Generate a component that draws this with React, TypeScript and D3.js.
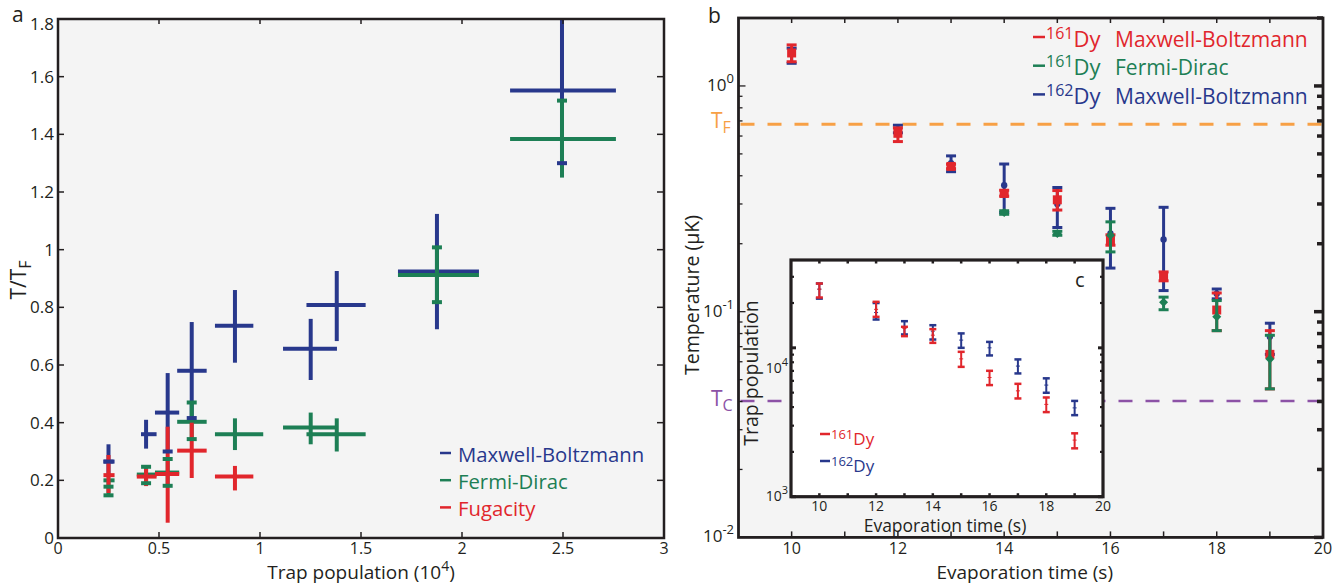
import React from "react";
import * as d3 from "d3";

// ---------- panel a : T/T_F vs trap population (1e4) ----------
// each row: [x, xLo, xHi, y, yLo, yHi]
const maxwellA = [
  [0.25, 0.225, 0.28, 0.265, 0.21, 0.325],
  [0.436, 0.411, 0.488, 0.36, 0.31, 0.41],
  [0.543, 0.48, 0.6, 0.435, 0.3, 0.572],
  [0.662, 0.59, 0.736, 0.58, 0.416, 0.749],
  [0.876, 0.777, 0.967, 0.736, 0.608, 0.86],
  [1.251, 1.114, 1.381, 0.656, 0.548, 0.76],
  [1.38, 1.23, 1.523, 0.808, 0.683, 0.926],
  [1.876, 1.683, 2.084, 0.924, 0.724, 1.124],
  [2.495, 2.238, 2.762, 1.552, 1.3, 1.95],
];
const fermiA = [
  [0.25, 0.225, 0.28, 0.2, 0.15, 0.2],
  [0.436, 0.39, 0.488, 0.22, 0.19, 0.247],
  [0.543, 0.48, 0.6, 0.227, 0.181, 0.274],
  [0.662, 0.59, 0.736, 0.403, 0.343, 0.47],
  [0.876, 0.777, 1.016, 0.36, 0.305, 0.415],
  [1.251, 1.114, 1.381, 0.383, 0.325, 0.435],
  [1.38, 1.23, 1.523, 0.36, 0.3, 0.415],
  [1.876, 1.683, 2.084, 0.912, 0.818, 1.008],
  [2.495, 2.238, 2.762, 1.384, 1.25, 1.517],
];
const fugacityA = [
  [0.25, 0.225, 0.28, 0.218, 0.156, 0.288],
  [0.436, 0.39, 0.488, 0.213, 0.18, 0.24],
  [0.543, 0.48, 0.6, 0.222, 0.053, 0.386],
  [0.662, 0.59, 0.736, 0.303, 0.208, 0.4],
  [0.876, 0.777, 0.967, 0.213, 0.165, 0.25],
];
// short cap marks: [x, y]
const maxwellCapsA = [[0.25, 0.265], [0.543, 0.3], [0.662, 0.416], [2.495, 1.3]];
const fermiCapsA = [
  [0.25, 0.178], [0.25, 0.148], [0.436, 0.247], [0.436, 0.19],
  [0.543, 0.274], [0.543, 0.181], [0.662, 0.47], [0.662, 0.343],
  [1.876, 1.008], [1.876, 0.818], [2.495, 1.517],
];
const legendA = ["Maxwell-Boltzmann", "Fermi-Dirac", "Fugacity"];

// ---------- panel b : temperature vs evaporation time ----------
const evapTimes = [10, 12, 13, 14, 15, 16, 17, 18, 19];
const mb161 = [1.4, 0.617, 0.44, 0.334, 0.313, 0.208, 0.143, 0.1017, 0.0647];
const mb161Lo = [1.28, 0.567, 0.43, 0.325, 0.282, 0.197, 0.137, 0.0824, 0.0455];
const mb161Hi = [1.52, 0.652, 0.45, 0.345, 0.344, 0.219, 0.15, 0.121, 0.0824];
const fdTimes = [14, 15, 16, 17, 18, 19];
const fd161 = [0.275, 0.222, 0.218, 0.11, 0.095, 0.0617];
const fd161Lo = [0.27, 0.218, 0.184, 0.102, 0.0824, 0.0455];
const fd161Hi = [0.28, 0.227, 0.25, 0.116, 0.112, 0.0786];
const mb162 = [1.4, 0.64, 0.455, 0.363, 0.3, 0.222, 0.209, 0.12, 0.0775];
const mb162Lo = [1.26, 0.62, 0.417, 0.275, 0.236, 0.156, 0.124, 0.114, 0.0647];
const mb162Hi = [1.47, 0.67, 0.49, 0.451, 0.355, 0.287, 0.29, 0.126, 0.0889];
const fermiTemp = 0.676;
const criticalTemp = 0.0402;

// ---------- inset c : trap population vs evaporation time ----------
const pop161 = [24770, 18130, 13490, 12160, 8430, 6320, 5140, 4170, 2400];
const pop161Lo = [21780, 16150, 11980, 10800, 7450, 5620, 4570, 3700, 2113];
const pop161Hi = [27040, 20370, 13840, 13350, 9400, 7010, 5730, 4640, 2665];
const pop162 = [24770, 17260, 13700, 12940, 11270, 10000, 7540, 5620, 3950];
const pop162Lo = [21400, 15490, 12300, 11370, 10000, 8890, 6730, 4990, 3530];
const pop162Hi = [27040, 20000, 15100, 14190, 12500, 10960, 8360, 6240, 4400];

const BLUE = "#28388c";
const GREEN = "#1d7f55";
const RED = "#e1262c";
const ORANGE = "#f7a045";
const PURPLE = "#8c52a6";
const INK = "#231f20";
const BG = "#f4f4f4";
const FONT = "'Open Sans', sans-serif";

const Sup = ({ t, dy = -7, size = 12 }: { t: string; dy?: number; size?: number }) => (
  <tspan dy={dy} fontSize={size}>{t}</tspan>
);

export default function App() {
  // panel a
  const xA = d3.scaleLinear().domain([0, 3]).range([58, 664]);
  const yA = d3.scaleLinear().domain([0, 1.8]).range([538, 19]);
  // panel b
  const xB = d3.scaleLinear().domain([9, 20]).range([738.5, 1323]);
  const yB = d3.scaleLog().domain([0.01, 2]).range([537.4, 18]);
  // inset
  const xC = d3.scaleLinear().domain([9, 20]).range([791, 1103]);
  const yC = d3.scaleLog().domain([1000, 38900]).range([496.7, 260]);

  const isDecade = (v: number) => Math.abs(Math.log10(v) - Math.round(Math.log10(v))) < 1e-6;

  const crossA = (rows: number[][], color: string, key: string) =>
    rows.map((r, i) => (
      <g key={key + i} stroke={color} strokeWidth={4}>
        <line x1={xA(r[1])} x2={xA(r[2])} y1={yA(r[3])} y2={yA(r[3])} />
        <line x1={xA(r[0])} x2={xA(r[0])} y1={yA(r[4])} y2={yA(r[5])} />
      </g>
    ));
  const capsA = (rows: number[][], color: string, key: string) =>
    rows.map((r, i) => (
      <line key={key + i} x1={xA(r[0]) - 5} x2={xA(r[0]) + 5} y1={yA(r[1])} y2={yA(r[1])}
        stroke={color} strokeWidth={4} />
    ));

  const barsB = (
    times: number[], mid: number[], lo: number[], hi: number[], color: string,
    marker: "square" | "circle" | "diamond", key: string
  ) =>
    times.map((t, i) => {
      const x = xB(t);
      const y = yB(mid[i]);
      return (
        <g key={key + i}>
          <g stroke={color} strokeWidth={3}>
            <line x1={x} x2={x} y1={yB(lo[i])} y2={yB(hi[i])} />
            <line x1={x - 5} x2={x + 5} y1={yB(lo[i])} y2={yB(lo[i])} />
            <line x1={x - 5} x2={x + 5} y1={yB(hi[i])} y2={yB(hi[i])} />
          </g>
          {marker === "square" && <rect x={x - 4.5} y={y - 4.5} width={9} height={9} fill={color} />}
          {marker === "circle" && <circle cx={x} cy={y} r={3.2} fill={color} />}
          {marker === "diamond" && (
            <path d={`M${x},${y - 4.5}L${x + 4.5},${y}L${x},${y + 4.5}L${x - 4.5},${y}Z`} fill={color} />
          )}
        </g>
      );
    });

  const barsC = (mid: number[], lo: number[], hi: number[], color: string, key: string) =>
    evapTimes.map((t, i) => {
      const x = xC(t);
      const y = yC(mid[i]);
      return (
        <g key={key + i} stroke={color}>
          <line x1={x} x2={x} y1={yC(lo[i])} y2={yC(hi[i])} strokeWidth={2} />
          <line x1={x - 3.5} x2={x + 3.5} y1={yC(lo[i])} y2={yC(lo[i])} strokeWidth={2.5} />
          <line x1={x - 3.5} x2={x + 3.5} y1={yC(hi[i])} y2={yC(hi[i])} strokeWidth={2.5} />
          <line x1={x - 2} x2={x + 2} y1={y} y2={y} strokeWidth={1} />
        </g>
      );
    });

  const [ax0, ax1] = xA.range();
  const [ay0, ay1] = yA.range();
  const [bx0, bx1] = xB.range();
  const [by0, by1] = yB.range();
  const [cx0, cx1] = xC.range();
  const [cy0, cy1] = yC.range();

  const ticksA_y = d3.range(0, 1.81, 0.2);
  const ticksA_x = d3.range(0, 3.01, 0.5);
  const ticksB_x = d3.range(10, 20);
  const labelsB_x = d3.range(10, 21, 2);
  const ticksB_y = yB.ticks();
  const ticksC_y = yC.ticks();

  const legendColorsA = [BLUE, GREEN, RED];
  const legendB = [
    { mass: "161", name: "Maxwell-Boltzmann", color: RED },
    { mass: "161", name: "Fermi-Dirac", color: GREEN },
    { mass: "162", name: "Maxwell-Boltzmann", color: BLUE },
  ];
  const legendC = [
    { mass: "161", color: RED },
    { mass: "162", color: BLUE },
  ];

  return (
    <svg width={1336} height={585} style={{ position: "absolute", left: 0, top: 0, background: "#fff" }}
      fontFamily={FONT}>
      <defs>
        <clipPath id="clipA">
          <rect x={ax0} y={ay1} width={ax1 - ax0} height={ay0 - ay1} />
        </clipPath>
      </defs>

      {/* ================= panel a ================= */}
      <rect x={ax0} y={ay1} width={ax1 - ax0} height={ay0 - ay1} fill={BG} />
      <g clipPath="url(#clipA)">
        {crossA(maxwellA, BLUE, "mb")}
        {crossA(fermiA, GREEN, "fd")}
        {crossA(fugacityA, RED, "fu")}
        {capsA(maxwellCapsA, BLUE, "mbc")}
        {capsA(fermiCapsA, GREEN, "fdc")}
      </g>
      <g stroke={INK} strokeWidth={1.5}>
        {ticksA_y.map((v) => (
          <g key={"ay" + v}>
            <line x1={ax0} x2={ax0 + 6} y1={yA(v)} y2={yA(v)} />
            <line x1={ax1 - 7} x2={ax1} y1={yA(v)} y2={yA(v)} />
          </g>
        ))}
        {ticksA_x.map((v) => (
          <g key={"ax" + v}>
            <line x1={xA(v)} x2={xA(v)} y1={ay0} y2={ay0 - 6} />
            <line x1={xA(v)} x2={xA(v)} y1={ay1} y2={ay1 + 5} />
          </g>
        ))}
      </g>
      <rect x={ax0} y={ay1} width={ax1 - ax0} height={ay0 - ay1} fill="none" stroke={INK} strokeWidth={2.5} />
      <g fontSize={17} fill={INK}>
        {ticksA_y.map((v) => (
          <text key={"ayl" + v} x={ax0 - 4} y={Math.max(yA(v), 24)} dy="0.36em" textAnchor="end">
            {d3.format("~g")(+v.toFixed(1))}
          </text>
        ))}
      </g>
      <g fontSize={16} fill={INK}>
        {ticksA_x.map((v) => (
          <text key={"axl" + v} x={xA(v)} y={553.5} textAnchor="middle">
            {d3.format("~g")(v)}
          </text>
        ))}
      </g>
      <text x={(ax0 + ax1) / 2} y={578.5} textAnchor="middle" fontSize={19} fill={INK}>
        Trap population (10<Sup t="4" dy={-8} size={14} /><tspan dy={8}>)</tspan>
      </text>
      <text transform={`translate(26,280) rotate(-90)`} textAnchor="middle" fontSize={21} fill={INK}>
        T/T<tspan dy={5} fontSize={16}>F</tspan>
      </text>
      <text x={12} y={22} fontSize={21} fill={INK}>a</text>
      {legendA.map((name, i) => (
        <g key={"lga" + i}>
          <line x1={440} x2={451} y1={453 + i * 27.2} y2={453 + i * 27.2} stroke={legendColorsA[i]} strokeWidth={2.5} />
          <text x={458} y={461.5 + i * 27.2} fontSize={20.3} fill={legendColorsA[i]}>{name}</text>
        </g>
      ))}

      {/* ================= panel b ================= */}
      <rect x={bx0} y={by1} width={bx1 - bx0} height={by0 - by1} fill={BG} />
      <line x1={bx0 + 2} x2={bx1} y1={yB(fermiTemp)} y2={yB(fermiTemp)} stroke={ORANGE} strokeWidth={3}
        strokeDasharray="14 13" />
      <line x1={bx0 + 2} x2={bx1} y1={yB(criticalTemp)} y2={yB(criticalTemp)} stroke={PURPLE} strokeWidth={2.5}
        strokeDasharray="14 13" />
      {barsB(evapTimes, mb162, mb162Lo, mb162Hi, BLUE, "circle", "b162")}
      {barsB(evapTimes, mb161, mb161Lo, mb161Hi, RED, "square", "b161")}
      {barsB(fdTimes, fd161, fd161Lo, fd161Hi, GREEN, "diamond", "bfd")}
      <g stroke={INK}>
        {ticksB_x.map((v) => (
          <g key={"bx" + v} strokeWidth={1.5}>
            <line x1={xB(v)} x2={xB(v)} y1={by0} y2={by0 - 6} />
            <line x1={xB(v)} x2={xB(v)} y1={by1} y2={by1 + 5} />
          </g>
        ))}
        {ticksB_y.map((v) => {
          const major = isDecade(v);
          return (
            <g key={"by" + v}>
              <line x1={bx0} x2={bx0 + (major ? 7 : 4)} y1={yB(v)} y2={yB(v)} strokeWidth={1.3} />
              <line x1={bx1 - (major ? 9 : 6)} x2={bx1} y1={yB(v)} y2={yB(v)} strokeWidth={3.5} />
            </g>
          );
        })}
      </g>
      <rect x={bx0} y={by1} width={bx1 - bx0} height={by0 - by1} fill="none" stroke={INK} strokeWidth={2.8} />
      <g fontSize={17} fill={INK}>
        {ticksB_y.filter(isDecade).map((v) => (
          <text key={"byl" + v} x={734} y={yB(v) + 5} textAnchor="end">
            10<Sup t={String(Math.round(Math.log10(v)))} dy={-8} size={13} />
          </text>
        ))}
      </g>
      <g fontSize={16} fill={INK}>
        {labelsB_x.map((v) => (
          <text key={"bxl" + v} x={xB(v)} y={553.5} textAnchor="middle">{v}</text>
        ))}
      </g>
      <text x={(bx0 + bx1) / 2 - 6} y={578.5} textAnchor="middle" fontSize={19} fill={INK}>
        Evaporation time (s)
      </text>
      <text transform={`translate(699,295) rotate(-90)`} textAnchor="middle" fontSize={19.5} fill={INK}>
        Temperature (μK)
      </text>
      <text x={708} y={23} fontSize={21} fill={INK}>b</text>
      <text x={711} y={128} fontSize={21} fill={ORANGE}>
        T<tspan dy={5} fontSize={16}>F</tspan>
      </text>
      <text x={711} y={406} fontSize={21} fill={PURPLE}>
        T<tspan dy={5} fontSize={16}>C</tspan>
      </text>
      {legendB.map((d, i) => (
        <g key={"lgb" + i} fill={d.color}>
          <line x1={1033} x2={1045} y1={37 + i * 28.7} y2={37 + i * 28.7} stroke={d.color} strokeWidth={2.5} />
          <text x={1046} y={46.5 + i * 28.7} fontSize={22}>
            <tspan dy={-8} fontSize={16}>{d.mass}</tspan><tspan dy={8}>Dy</tspan>
          </text>
          <text x={1115} y={46.5 + i * 28.7} fontSize={21}>{d.name}</text>
        </g>
      ))}

      {/* ================= inset c ================= */}
      <rect x={cx0} y={cy1} width={cx1 - cx0} height={cy0 - cy1} fill="#fff" />
      {barsC(pop162, pop162Lo, pop162Hi, BLUE, "c162")}
      {barsC(pop161, pop161Lo, pop161Hi, RED, "c161")}
      <g stroke={INK}>
        {ticksB_x.map((v) => (
          <g key={"cx" + v} strokeWidth={2.5}>
            <line x1={xC(v)} x2={xC(v)} y1={cy0} y2={cy0 - 3.5} />
            <line x1={xC(v)} x2={xC(v)} y1={cy1} y2={cy1 + 3.5} />
          </g>
        ))}
        {ticksC_y.map((v) => {
          const major = isDecade(v);
          return (
            <g key={"cy" + v} strokeWidth={major ? 3 : 2.2}>
              <line x1={cx0} x2={cx0 + (major ? 5 : 3)} y1={yC(v)} y2={yC(v)} />
              <line x1={cx1 - (major ? 5 : 3)} x2={cx1} y1={yC(v)} y2={yC(v)} />
            </g>
          );
        })}
      </g>
      <rect x={cx0} y={cy1} width={cx1 - cx0} height={cy0 - cy1} fill="none" stroke={INK} strokeWidth={3.2} />
      <g fontSize={14} fill={INK}>
        {labelsB_x.map((v) => (
          <text key={"cxl" + v} x={xC(v)} y={510.5} textAnchor="middle">{v}</text>
        ))}
        {ticksC_y.filter(isDecade).map((v) => (
          <text key={"cyl" + v} x={788} y={yC(v) + (v > 5000 ? 25 : 4)} textAnchor="end">
            10<Sup t={String(Math.round(Math.log10(v)))} dy={-7} size={11} />
          </text>
        ))}
      </g>
      <text x={(cx0 + cx1) / 2 - 2} y={532} textAnchor="middle" fontSize={17.5} fill={INK}>
        Evaporation time (s)
      </text>
      <text transform={`translate(758,373) rotate(-90)`} textAnchor="middle" fontSize={19.5} fill={INK}>
        Trap population
      </text>
      <text x={1075} y={287} fontSize={20} fill={INK}>c</text>
      {legendC.map((d, i) => (
        <g key={"lgc" + i} fill={d.color}>
          <line x1={820} x2={830} y1={434 + i * 27} y2={434 + i * 27} stroke={d.color} strokeWidth={2.5} />
          <text x={831} y={445 + i * 27} fontSize={17}>
            <tspan dy={-6} fontSize={13}>{d.mass}</tspan><tspan dy={6}>Dy</tspan>
          </text>
        </g>
      ))}
    </svg>
  );
}
